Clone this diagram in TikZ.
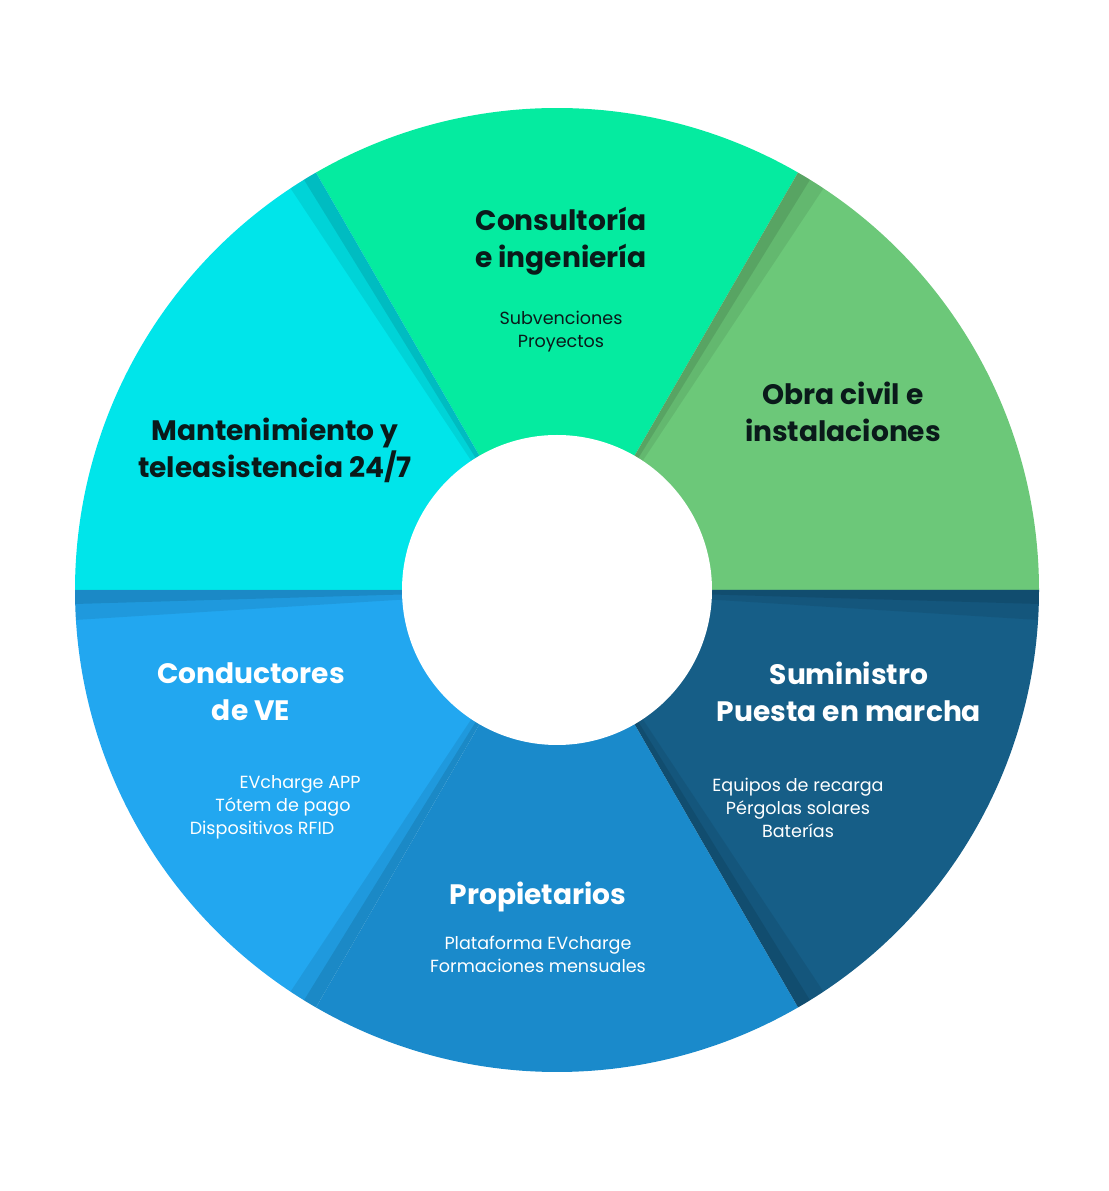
\documentclass[tikz,border=0pt]{standalone}
\usepackage{fontspec}
\setmainfont{Poppins}
\definecolor{cA}{HTML}{05EBA0}
\definecolor{cB}{HTML}{6CC879}
\definecolor{cC}{HTML}{165E87}
\definecolor{cD}{HTML}{1A8ACB}
\definecolor{cE}{HTML}{22A7F0}
\definecolor{cF}{HTML}{00E5EA}
\definecolor{dk}{HTML}{0A1A1A}
\begin{document}
\begin{tikzpicture}[x=0.02cm,y=0.02cm,
  title/.style={font=\fontsize{16}{21}\selectfont\bfseries,align=center},
  sub/.style={font=\fontsize{10}{13}\selectfont,align=center}]
\useasboundingbox (0,0) rectangle (1109,1191);
\coordinate (o) at (557,601);
\foreach \a/\c in {60/cA,0/cB,-60/cC,-120/cD,-180/cE,-240/cF}{
  \fill[\c] (o) -- ++(\a:482) arc[start angle=\a,end angle=\a+60,radius=482] -- cycle;
}
% soft shadows at boundaries
\foreach \a/\s in {60/-1,0/-1,-60/1,-120/-1,180/1,120/1}{
  \begin{scope}
  \clip (o) circle (482);
  \fill[black,opacity=0.10] (o) -- ++(\a:482) -- ++(\a+90*\s:14) -- (o) -- cycle;
  \fill[black,opacity=0.08] (o) -- ++(\a:482) -- ++(\a+90*\s:30) -- (o) -- cycle;
  \end{scope}
}
\fill[white] (o) circle (155);
\node[title,text=dk] (t1) at (561,950) {Consultoría\\e ingeniería};
\node[sub,text=dk] (s1) at (561,859) {Subvenciones\\Proyectos};
\node[title,text=dk] (t2) at (843,779) {Obra civil e\\instalaciones};
\node[title,text=dk] (t3) at (275,741) {Mantenimiento y\\teleasistencia 24/7};
\node[title,text=white] (t4) at (251,499) {Conductores\\de VE};
\node[sub,text=white] (s4a) at (300,407) {EVcharge APP};
\node[sub,text=white] (s4b) at (283,384) {Tótem de pago};
\node[sub,text=white] (s4c) at (262,361) {Dispositivos RFID};
\node[title,text=white] (t5) at (849,499) {Suministro\\Puesta en marcha};
\node[sub,text=white] (s5) at (798,383) {Equipos de recarga\\Pérgolas solares\\Baterías};
\node[title,text=white] (t6) at (538,294) {Propietarios};
\node[sub,text=white] (s6) at (538,237) {Plataforma EVcharge\\Formaciones mensuales};
\end{tikzpicture}
\end{document}
